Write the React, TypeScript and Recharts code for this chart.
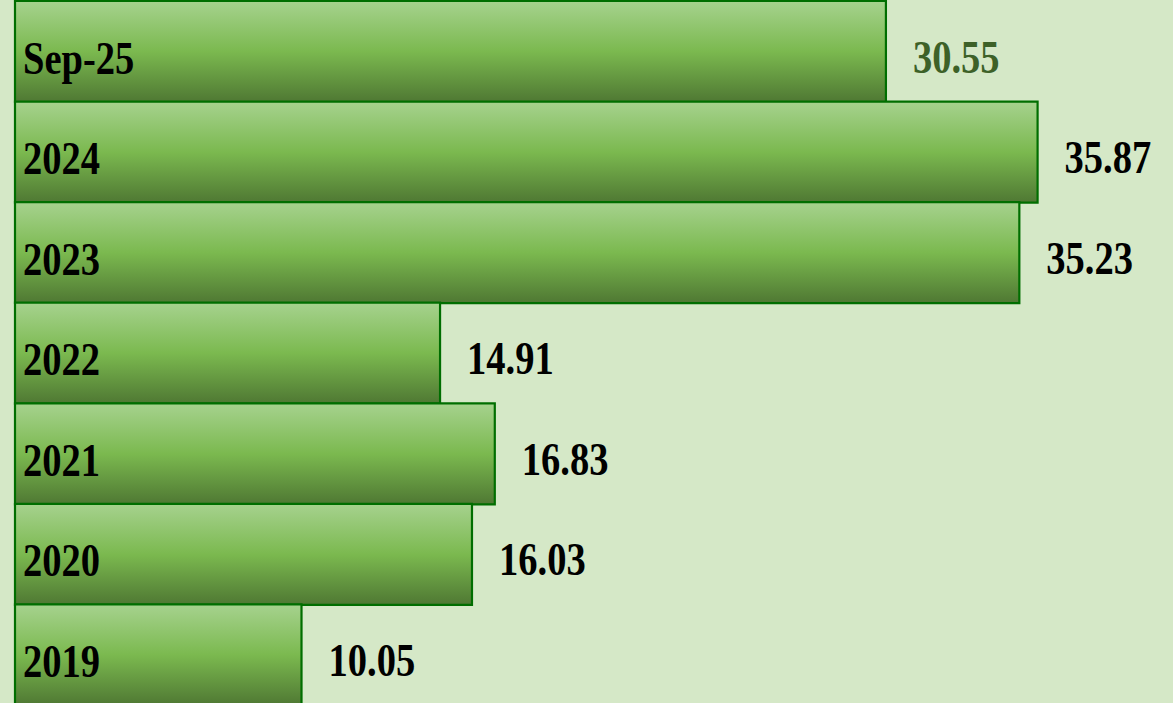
import { BarChart, Bar, XAxis, YAxis, LabelList } from 'recharts';

const categories = ['Sep-25', '2024', '2023', '2022', '2021', '2020', '2019'];
const values = [30.55, 35.87, 35.23, 14.91, 16.83, 16.03, 10.05];
const labelColors = ['#3d6128', '#000', '#000', '#000', '#000', '#000', '#000'];

const data = categories.map((name, i) => ({ name, value: values[i], color: labelColors[i] }));

const font = '"Liberation Serif", "Times New Roman", serif';

// text in the source is tall and narrow, so squeeze it horizontally
function SqueezedText({ x, y, fill, children }: any) {
  return (
    <text
      transform={`translate(${x},${y}) scale(0.82,1)`}
      fontFamily={font}
      fontWeight="bold"
      fontSize={47}
      fill={fill}
    >
      {children}
    </text>
  );
}

function CategoryLabel(props: any) {
  const { x, y, height, value } = props;
  return (
    <SqueezedText x={x + 8} y={y + height / 2 + 22} fill="#000">
      {value}
    </SqueezedText>
  );
}

function ValueLabel(props: any) {
  const { x, y, width, height, value, index } = props;
  return (
    <SqueezedText x={x + width + 27} y={y + height / 2 + 21} fill={data[index].color}>
      {value.toFixed(2)}
    </SqueezedText>
  );
}

export default function App() {
  return (
    <div style={{ position: 'absolute', left: 0, top: 0, width: 1173, height: 703, overflow: 'hidden', background: '#d5e8c7' }}>
      <BarChart
        width={1173}
        height={705}
        data={data}
        layout="vertical"
        margin={{ top: 1, right: 0, bottom: 0, left: 15 }}
        barCategoryGap={0}
      >
        <defs>
          <linearGradient id="barGrad" x1="0" y1="0" x2="0" y2="1">
            <stop offset="0%" stopColor="#a6d28e" />
            <stop offset="50%" stopColor="#7bb94f" />
            <stop offset="100%" stopColor="#4f7833" />
          </linearGradient>
        </defs>
        <XAxis type="number" hide domain={[0, 40.62]} />
        <YAxis type="category" dataKey="name" hide />
        <Bar dataKey="value" fill="url(#barGrad)" stroke="#006e00" strokeWidth={2.2} isAnimationActive={false}>
          <LabelList dataKey="name" content={<CategoryLabel />} />
          <LabelList dataKey="value" content={<ValueLabel />} />
        </Bar>
      </BarChart>
    </div>
  );
}
